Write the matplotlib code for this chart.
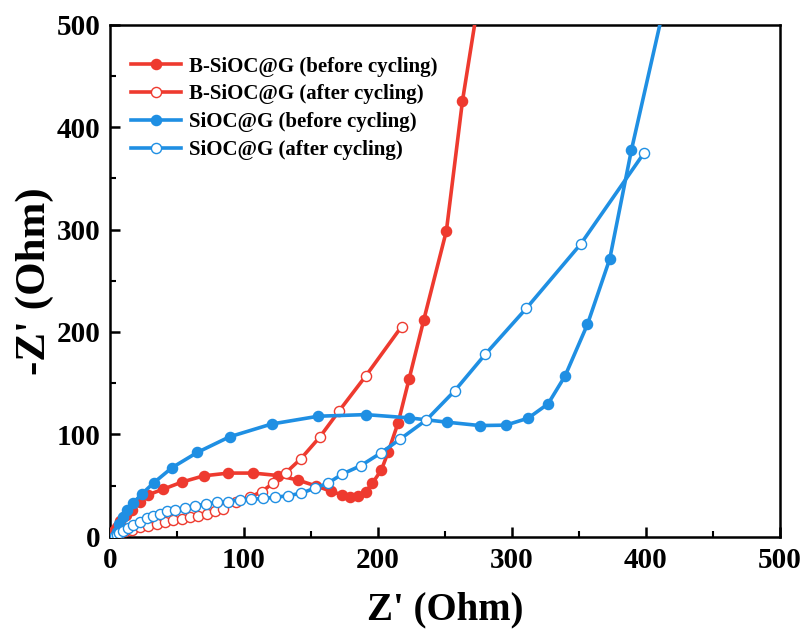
import matplotlib
matplotlib.use("Agg")
import matplotlib.pyplot as plt

# Nyquist data (Z' , -Z'')
red_before_x = [1, 1.5, 2.5, 3.5, 5, 7.5, 11.7, 16.2, 22.4, 28.6, 39.8, 54, 70, 88.5, 107,
                125.6, 140.5, 154.2, 165, 173, 179.6, 185.3, 191, 196, 202.7, 207.7, 215.2,
                223.4, 234.3, 251.2, 263.2, 282]
red_before_y = [1, 2.5, 4.5, 7, 10, 15, 21.5, 26.5, 34, 41, 46.5, 53.5, 59.5, 62.2, 62.2,
                59.8, 55.3, 49.5, 44.5, 41, 38.7, 40, 44.2, 52.4, 65.4, 82.6, 111.5,
                154.4, 211.7, 298.8, 425.7, 580]

red_after_x = [3.5, 5, 7, 11.2, 16.2, 22.4, 28.6, 34.8, 41, 47.3, 53.5, 59.7, 65.9, 72.2,
               78.4, 84.6, 94.5, 104.5, 113.2, 121.9, 131.3, 142.5, 156.7, 171.1, 191, 217.7]
red_after_y = [0.5, 1.5, 3, 5.2, 6.8, 9.1, 10.7, 12.4, 14, 15.9, 17.6, 19.2, 20.5, 22.4,
               24.7, 27, 33.5, 38.7, 44, 52.4, 62.5, 76.1, 97.4, 122.9, 157, 205.2]

blue_before_x = [4, 5, 7, 10, 13, 17.4, 23.6, 33, 46.4, 65.3, 89.3, 120.7, 155.5, 191,
                 223.4, 251.7, 276.1, 295.5, 312.2, 327.1, 339.8, 356.5, 373.1, 389.3, 414]
blue_before_y = [1, 5, 12, 19, 26, 33, 41.5, 53, 67.5, 82.4, 97.6, 110.1, 117.7, 119.3,
                 116.1, 111.9, 108.6, 109, 115.8, 129.8, 157.1, 207.5, 271.2, 377.6, 520]

blue_after_x = [4, 5, 7, 10, 13.7, 17.4, 22.4, 27.4, 32.3, 37.3, 42.3, 48.5, 56, 63.4,
                71.6, 79.6, 88.3, 97, 105.7, 114.4, 123, 133, 143, 153, 162.9, 173.4,
                187.1, 202, 216.9, 236.3, 257.5, 280.1, 310.9, 351.5, 398.8]
blue_after_y = [0.5, 2, 4, 6, 8.5, 11.7, 14.9, 18.2, 20.5, 22.4, 24.7, 26.5, 27.9, 30.2,
                31.9, 33.5, 34.4, 36.1, 36.7, 37.4, 38.5, 40.1, 42.6, 47.5, 52.4, 61.2,
                69.3, 81.6, 95.6, 114.1, 142.7, 178, 223.1, 285.9, 374.9]

labels = ["B-SiOC@G (before cycling)", "B-SiOC@G (after cycling)",
          "SiOC@G (before cycling)", "SiOC@G (after cycling)"]

red = "#EE3A2F"
blue = "#1F8FE3"

plt.rcParams["font.family"] = ["Liberation Serif", "DejaVu Serif"]
plt.rcParams["font.weight"] = "bold"

fig = plt.figure(figsize=(8.08, 6.33), dpi=100)
ax = fig.add_axes([0.136, 0.152, 0.829, 0.809])

lw = 2.6
ms = 7.3
ax.plot(red_before_x, red_before_y, "-o", color=red, lw=lw, ms=ms, label=labels[0], zorder=3)
ax.plot(red_after_x, red_after_y, "-o", color=red, lw=lw, ms=ms, mfc="white", mec=red,
        mew=1.0, label=labels[1], zorder=3)
ax.plot(blue_before_x, blue_before_y, "-o", color=blue, lw=lw, ms=ms, label=labels[2], zorder=3)
ax.plot(blue_after_x, blue_after_y, "-o", color=blue, lw=lw, ms=ms, mfc="white", mec=blue,
        mew=1.0, label=labels[3], zorder=3)

ax.set_xlim(0, 500)
ax.set_ylim(0, 500)
ax.set_xticks(range(0, 501, 100))
ax.set_yticks(range(0, 501, 100))
ax.set_xticks(range(50, 500, 100), minor=True)
ax.set_yticks(range(50, 500, 100), minor=True)
ax.tick_params(which="major", direction="in", length=7, width=1.8, labelsize=21, pad=7)
ax.tick_params(which="minor", direction="in", length=4, width=1.5)
for lab in ax.get_xticklabels() + ax.get_yticklabels():
    lab.set_fontweight("bold")
for sp in ax.spines.values():
    sp.set_linewidth(1.8)

ax.set_xlabel("Z' (Ohm)", fontsize=28, fontweight="bold", labelpad=13)
ax.set_ylabel("-Z' (Ohm)", fontsize=31, fontweight="bold", labelpad=2)

ax.legend(loc="upper left", bbox_to_anchor=(0.0, 0.978), frameon=False,
          prop={"family": "Liberation Serif", "weight": "bold", "size": 15},
          handlelength=2.4, handletextpad=0.4, labelspacing=0.37, borderaxespad=0.6)

fig.savefig("out.png", dpi=100)
